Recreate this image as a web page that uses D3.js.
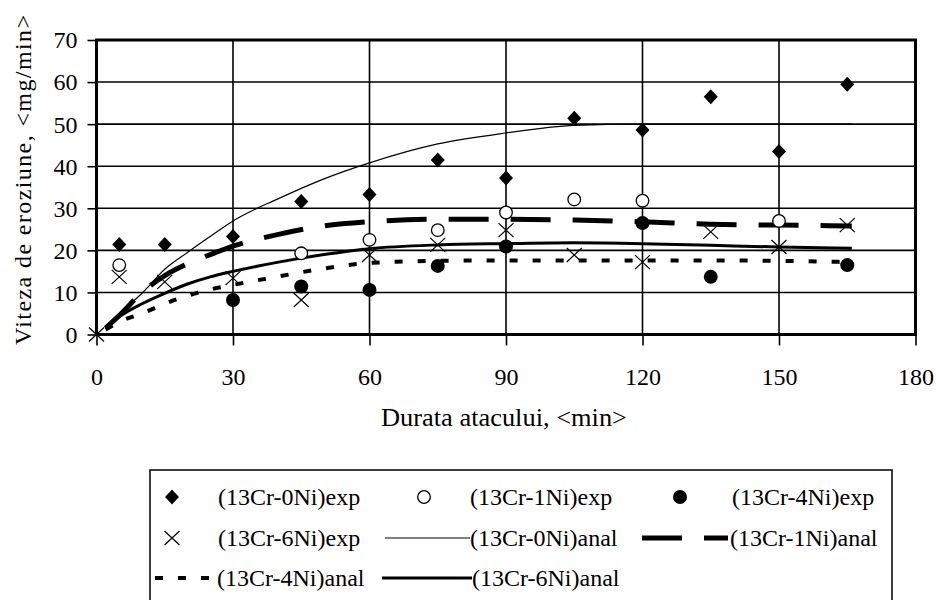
<!DOCTYPE html>
<html>
<head>
<meta charset="utf-8">
<script src="https://cdn.jsdelivr.net/npm/d3@7"></script>
<style>
	body { margin: 0; background: #fff; }
	svg text { font-family: "Liberation Serif", "Times New Roman", serif; fill: #000; }
</style>
</head>
<body>
<svg id="chart" width="936" height="600"></svg>
<script>
"use strict";

// EXPERIMENTAL POINTS [min, mg/min]
const exp0Ni = [[5, 21.4], [15, 21.4], [30, 23.3], [45, 31.6], [60, 33.3], [75, 41.5], [90, 37.2], [105, 51.4], [120, 48.6], [135, 56.5], [150, 43.5], [165, 59.5]];
const exp1Ni = [[5, 16.5], [45, 19.3], [60, 22.5], [75, 24.8], [90, 29], [105, 32.1], [120, 31.8], [150, 27]];
const exp4Ni = [[30, 8.2], [45, 11.4], [60, 10.6], [75, 16.3], [90, 20.9], [120, 26.5], [135, 13.7], [165, 16.5]];
const exp6Ni = [[0, 0], [5, 13.7], [15, 12.5], [30, 13.4], [45, 8.2], [60, 18.9], [75, 21.3], [90, 24.8], [105, 18.9], [120, 17.2], [135, 24.4], [150, 20.8], [165, 26]];

// ANALYTICAL CURVES
const analTimes = [2, 5, 10, 15, 20, 25, 30, 40, 50, 60, 75, 90, 105, 120, 135, 150, 166];
const anal0Ni = [2, 5, 9.8, 15.5, 19.5, 23.3, 27, 32.3, 37, 40.8, 45.3, 47.9, 49.7, 50, 50, 50, 50];
const anal1Ni = [1.5, 4.5, 10, 14, 16.8, 19, 21, 23.8, 25.8, 26.8, 27.4, 27.4, 27.2, 26.8, 26.2, 26, 25.8];
const anal4Ni = [1.2, 3, 5, 7.3, 9.2, 10.7, 11.8, 13.8, 15.7, 17, 17.5, 17.6, 17.6, 17.6, 17.6, 17.5, 17.2];
const anal6Ni = [1.5, 4.2, 7.3, 9.8, 12, 13.7, 15, 17.2, 19, 20.4, 21.3, 21.6, 21.8, 21.6, 21.2, 20.8, 20.5];

// AXES
const xTicks = [0, 30, 60, 90, 120, 150, 180];
const yTicks = [0, 10, 20, 30, 40, 50, 60, 70];
const xTitle = "Durata atacului, <min>";
const yTitle = "Viteza de eroziune, <mg/min>";

// LEGEND
const legendNames = ["(13Cr-0Ni)exp", "(13Cr-1Ni)exp", "(13Cr-4Ni)exp", "(13Cr-6Ni)exp",
	"(13Cr-0Ni)anal", "(13Cr-1Ni)anal", "(13Cr-4Ni)anal", "(13Cr-6Ni)anal"];

const svg = d3.select("#chart");
const plotL = 96.5, plotR = 915.5, plotT = 40, plotB = 334.5;

const x = d3.scaleLinear().domain([0, 180]).range([plotL, plotR]);
const y = d3.scaleLinear().domain([0, 70]).range([plotB, plotT]);

// grid
svg.append("g")
	.selectAll("line")
	.data(yTicks.slice(1, -1))
	.join("line")
	.attr("x1", plotL).attr("x2", plotR)
	.attr("y1", (d) => y(d)).attr("y2", (d) => y(d))
	.attr("stroke", "#000").attr("stroke-width", 1.6);
svg.append("g")
	.selectAll("line")
	.data(xTicks.slice(1, -1))
	.join("line")
	.attr("y1", plotT).attr("y2", plotB)
	.attr("x1", (d) => x(d)).attr("x2", (d) => x(d))
	.attr("stroke", "#000").attr("stroke-width", 1.6);

// axes
const xAxis = svg.append("g")
	.attr("transform", `translate(0,${plotB})`)
	.call(d3.axisBottom(x).tickValues(xTicks).tickSize(11).tickPadding(22));
const yAxis = svg.append("g")
	.attr("transform", `translate(${plotL},0)`)
	.call(d3.axisLeft(y).tickValues(yTicks).tickSize(9).tickPadding(10));
[xAxis, yAxis].forEach((a) => {
	a.select(".domain").remove();
	a.selectAll("line").attr("stroke", "#000").attr("stroke-width", 1.6);
	a.selectAll("text").attr("font-size", 24).attr("font-family", "Liberation Serif").attr("fill", "#000");
});
yAxis.selectAll("text").attr("dy", "0.33em");
xAxis.selectAll("text").attr("dy", "0.71em");

// frame
svg.append("rect")
	.attr("x", plotL).attr("y", plotT)
	.attr("width", plotR - plotL).attr("height", plotB - plotT)
	.attr("fill", "none").attr("stroke", "#000").attr("stroke-width", 3);

// titles
svg.append("text")
	.attr("x", 504).attr("y", 426)
	.attr("text-anchor", "middle").attr("font-size", 25)
	.attr("textLength", 246).attr("lengthAdjust", "spacingAndGlyphs")
	.text(xTitle);
svg.append("text")
	.attr("transform", "translate(31,180) rotate(-90)")
	.attr("text-anchor", "middle").attr("font-size", 24)
	.attr("textLength", 330).attr("lengthAdjust", "spacing")
	.text(yTitle);

// analytical lines
const lineStyles = [
	{ vals: anal0Ni, w: 1.2, dash: null },
	{ vals: anal1Ni, w: 5, dash: "40,22" },
	{ vals: anal4Ni, w: 4, dash: "8,15" },
	{ vals: anal6Ni, w: 3, dash: null },
];
const line = d3.line()
	.x((d) => x(d[0]))
	.y((d) => y(d[1]))
	.curve(d3.curveMonotoneX);
lineStyles.forEach((s) => {
	svg.append("path")
		.datum(analTimes.map((t, i) => [t, s.vals[i]]))
		.attr("d", line)
		.attr("fill", "none")
		.attr("stroke", "#000")
		.attr("stroke-width", s.w)
		.attr("stroke-dasharray", s.dash);
});

// marker drawers
function diamond(g, cx, cy) {
	g.append("path")
		.attr("d", `M${cx},${cy - 7.5}L${cx + 7},${cy}L${cx},${cy + 7.5}L${cx - 7},${cy}Z`)
		.attr("fill", "#000");
}
function openCircle(g, cx, cy) {
	g.append("circle").attr("cx", cx).attr("cy", cy).attr("r", 6.3)
		.attr("fill", "#fff").attr("stroke", "#000").attr("stroke-width", 1.3);
}
function dot(g, cx, cy) {
	g.append("circle").attr("cx", cx).attr("cy", cy).attr("r", 7)
		.attr("fill", "#000");
}
function cross(g, cx, cy) {
	g.append("path")
		.attr("d", `M${cx - 7.5},${cy - 7}L${cx + 7.5},${cy + 7}M${cx - 7.5},${cy + 7}L${cx + 7.5},${cy - 7}`)
		.attr("stroke", "#000").attr("stroke-width", 1.2).attr("fill", "none");
}

const marks = svg.append("g");
[[exp0Ni, diamond], [exp1Ni, openCircle], [exp4Ni, dot], [exp6Ni, cross]].forEach(([data, fn]) => {
	data.forEach((d) => fn(marks, x(d[0]), y(d[1])));
});

// legend
const lg = svg.append("g");
lg.append("rect")
	.attr("x", 150).attr("y", 470)
	.attr("width", 742).attr("height", 150)
	.attr("fill", "#fff").attr("stroke", "#000").attr("stroke-width", 1.5);

function sample(g, x1, x2, yy, s) {
	g.append("line")
		.attr("x1", x1).attr("x2", x2).attr("y1", yy).attr("y2", yy)
		.attr("stroke", "#000").attr("stroke-width", s.w)
		.attr("stroke-dasharray", s.dash);
}

const rowY = [497, 538, 578];
const legendItems = [
	{ name: legendNames[0], row: 0, tx: 218, mark: (g, yy) => diamond(g, 172, yy) },
	{ name: legendNames[1], row: 0, tx: 470, mark: (g, yy) => openCircle(g, 424, yy) },
	{ name: legendNames[2], row: 0, tx: 732, mark: (g, yy) => dot(g, 680, yy) },
	{ name: legendNames[3], row: 1, tx: 218, mark: (g, yy) => cross(g, 172, yy) },
	{ name: legendNames[4], row: 1, tx: 470, mark: (g, yy) => sample(g, 385, 470, yy, lineStyles[0]) },
	{ name: legendNames[5], row: 1, tx: 730, mark: (g, yy) => sample(g, 642, 728, yy, lineStyles[1]) },
	{ name: legendNames[6], row: 2, tx: 217, mark: (g, yy) => sample(g, 155, 213, yy, lineStyles[2]) },
	{ name: legendNames[7], row: 2, tx: 472, mark: (g, yy) => sample(g, 382, 472, yy, lineStyles[3]) },
];
legendItems.forEach((it) => {
	const yy = rowY[it.row];
	it.mark(lg, yy);
	lg.append("text")
		.attr("x", it.tx).attr("y", yy)
		.attr("dy", "0.33em")
		.attr("font-size", 24)
		.text(it.name);
});
</script>
</body>
</html>
